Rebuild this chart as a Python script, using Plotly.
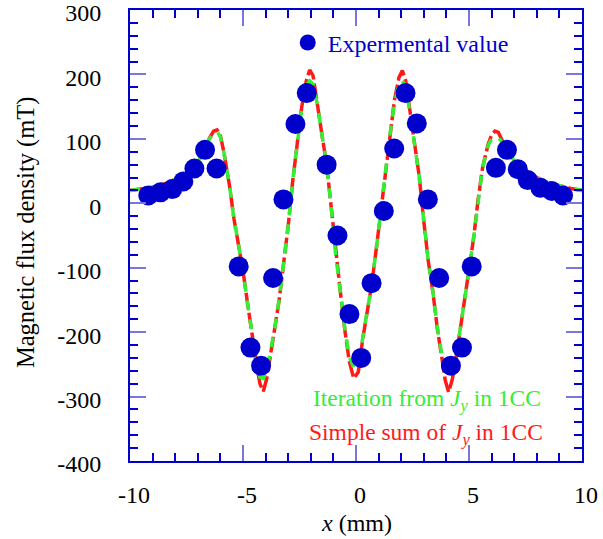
import plotly.graph_objects as go

# Experimental values (x in mm, B in mT)
exp_x = [-9.19, -8.65, -8.13, -7.64, -7.15, -6.68, -6.17, -5.19, -4.67, -4.20, -3.67, -3.21,
         -2.68, -2.18, -1.30, -0.82, -0.29, 0.23, 0.69, 1.23, 1.69, 2.19, 2.69, 3.18, 3.68,
         4.20, 4.69, 5.12, 6.19, 6.68, 7.16, 7.60, 8.16, 8.66, 9.16]
exp_y = [12, 17, 22, 34, 54, 83, 54, -98, -224, -252, -116, 6,
         123, 171, 60, -50, -172, -240, -124, -12, 85, 171, 124, 6, -116,
         -252, -224, -98, 55, 83, 53, 36, 24, 19, 12]

# Calculated curves
calc_x = [-10, -9.5, -9, -8.5, -8, -7.5, -7.25, -7, -6.75, -6.5, -6.3, -6.15, -6.0, -5.85,
          -5.6, -5.4, -5.2, -5.0, -4.8, -4.6, -4.4, -4.25, -4.1, -3.95, -3.8, -3.6, -3.4,
          -3.2, -3.0, -2.8, -2.6, -2.4, -2.2, -2.05, -1.9, -1.7, -1.5, -1.3, -1.1, -0.9,
          -0.7, -0.5, -0.3, -0.1, 0.1, 0.3, 0.5, 0.7, 0.9, 1.1, 1.3, 1.5, 1.7, 1.9, 2.05,
          2.2, 2.4, 2.6, 2.8, 3.0, 3.2, 3.4, 3.6, 3.8, 3.95, 4.1, 4.25, 4.4, 4.6, 4.8, 5.0,
          5.2, 5.4, 5.6, 5.85, 6.0, 6.15, 6.3, 6.5, 6.75, 7.0, 7.25, 7.5, 8.0, 8.5, 9.0,
          9.5, 10]
simple_sum = [20, 22, 25, 30, 37, 47, 54, 64, 80, 100, 112, 114, 105, 80,
              28, -24, -62, -105, -155, -205, -250, -280, -292, -272, -235, -195, -150,
              -95, -35, 35, 95, 150, 190, 207, 198, 155, 105, 60, -5, -80,
              -135, -195, -245, -272, -262, -210, -165, -125, -70, -11, 49, 108, 160, 195, 206,
              190, 140, 92, 41, -28, -90, -137, -195, -240, -275, -293, -275, -247, -200, -155, -105,
              -55, 5, 55, 92, 106, 112, 110, 95, 78, 66, 57, 50, 40, 32, 27,
              23, 20]
iteration = [20, 22, 25, 30, 37, 47, 54, 64, 80, 99, 108, 112, 103, 80,
             28, -24, -62, -105, -155, -205, -248, -270, -272, -260, -232, -195, -150,
             -95, -35, 35, 95, 148, 183, 190, 185, 152, 105, 60, -5, -80,
             -135, -193, -238, -255, -250, -208, -165, -125, -70, -11, 49, 106, 155, 185, 190,
             183, 138, 92, 41, -28, -90, -137, -193, -236, -262, -268, -262, -244, -200, -155, -105,
             -55, 5, 55, 90, 100, 103, 102, 93, 78, 66, 57, 50, 40, 32, 27,
             23, 20]

x_ticks = [-10, -5, 0, 5, 10]
y_ticks = [-400, -300, -200, -100, 0, 100, 200, 300]

BLUE = "#0000CC"
RED = "#FF1A1A"
GREEN = "#33EE33"
FONT = "Liberation Serif"

fig = go.Figure()
fig.add_trace(go.Scatter(x=calc_x, y=simple_sum, mode="lines", showlegend=False,
                         line=dict(color=RED, width=3.5, dash="16px,4px")))
fig.add_trace(go.Scatter(x=calc_x, y=iteration, mode="lines", showlegend=False,
                         line=dict(color=GREEN, width=3.5, dash="10px,9px")))
fig.add_trace(go.Scatter(x=exp_x, y=exp_y, mode="markers", name="Expermental value",
                         marker=dict(color=BLUE, size=20, line=dict(width=0))))

axis_common = dict(
    showgrid=False, zeroline=False, showline=True, linecolor=BLUE, linewidth=2,
    mirror="allticks", ticks="inside", tickcolor="#7777DD", tickwidth=2, ticklen=16,
    tickfont=dict(family=FONT, size=24, color="black"),
    automargin=False, ticklabeloverflow="allow",
)

fig.update_xaxes(range=[-10, 10], tickvals=x_ticks, ticktext=[str(v) for v in x_ticks],
                 minor=dict(dtick=1, ticks="inside", ticklen=8, tickcolor=BLUE, tickwidth=1.5),
                 ticklabelstandoff=11, ticklabelshift=4, **axis_common)
fig.update_yaxes(range=[-400, 300], tickvals=y_ticks, ticktext=[str(v) for v in y_ticks],
                 minor=dict(dtick=20, ticks="inside", ticklen=8, tickcolor=BLUE, tickwidth=1.5),
                 ticklabelstandoff=22, ticklabelshift=3, **axis_common)

# axis titles
fig.add_annotation(x=0.5, y=-0.1375, xref="paper", yref="paper", xanchor="center", yanchor="middle",
                   showarrow=False, text="<i>x</i> (mm)",
                   font=dict(family=FONT, size=24, color="black"))
fig.add_annotation(x=-0.230, y=0.5055, xref="paper", yref="paper", xanchor="center", yanchor="middle",
                   showarrow=False, text="Magnetic flux density (mT)", textangle=-90,
                   font=dict(family=FONT, size=24.5, color="black"))

# line labels
fig.add_annotation(x=0.4006, y=0.135, xref="paper", yref="paper", xanchor="left", yanchor="middle",
                   showarrow=False, text="Iteration from <i>J</i><sub><i>y</i></sub> in 1CC",
                   font=dict(family=FONT, size=23.5, color=GREEN))
fig.add_annotation(x=0.391, y=0.0596, xref="paper", yref="paper", xanchor="left", yanchor="middle",
                   showarrow=False, text="Simple sum of <i>J</i><sub><i>y</i></sub> in 1CC",
                   font=dict(family=FONT, size=23.5, color=RED))

fig.update_layout(
    width=603, height=539,
    margin=dict(l=130, r=21, t=10, b=78),
    plot_bgcolor="white", paper_bgcolor="white",
    showlegend=True,
    legend=dict(x=0.349, y=0.927, xanchor="left", yanchor="middle", bgcolor="rgba(0,0,0,0)",
                font=dict(family=FONT, size=24, color=BLUE), itemsizing="trace"),
)

fig.write_html("out.html", config={"displayModeBar": False},
               post_script="document.body.style.margin='0px';")
